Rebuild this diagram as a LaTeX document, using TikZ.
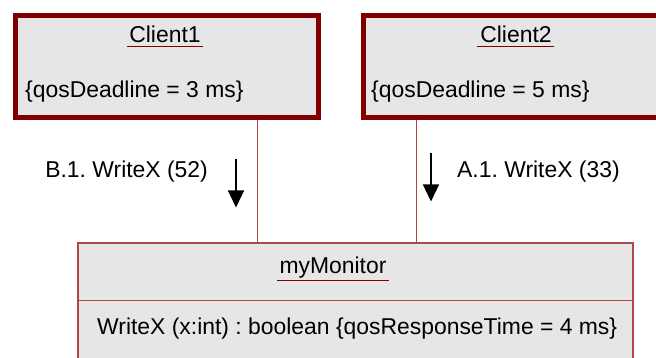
\documentclass[tikz,border=0pt]{standalone}
\usepackage{fontspec}
\setmainfont{Liberation Sans}
\usetikzlibrary{arrows.meta}
\definecolor{darkred}{HTML}{800000}
\definecolor{linered}{HTML}{B04848}
\definecolor{boxgray}{HTML}{E6E6E6}
\tikzset{
  clientbox/.style={draw=darkred, line width=5pt, fill=boxgray, inner sep=0pt, minimum width=302.5pt, minimum height=102pt},
  monbox/.style={draw=linered, line width=1.3pt, fill=boxgray, inner sep=0pt, minimum width=555pt, minimum height=140pt},
  txt/.style={inner sep=0pt, anchor=base, font=\fontsize{22.9}{27}\selectfont\frenchspacing},
  ltxt/.style={txt, anchor=base west},
  rtxt/.style={txt, anchor=base east},
  uline/.style={draw=darkred, line width=1pt},
  mline/.style={draw=linered, line width=1pt},
  conn/.style={draw=linered, line width=1pt},
  msgarrow/.style={draw=black, line width=1.3pt, -{Triangle[length=17pt,width=16pt]}}
}
\begin{document}
\begin{tikzpicture}[x=1pt,y=-1pt]
\clip (0,0) rectangle (656,358);
\fill[white] (0,0) rectangle (656,358);
% monitor
\node[monbox] (mon) at (355.5,313) {};
\draw[mline] (mon.west |- 0,300) -- (mon.east |- 0,300);
% clients
\node[clientbox] (c1) at (166.75,66.5) {};
\node[clientbox] (c2) at (514.75,66.5) {};
% connectors
\coordinate (k1) at (257,0);
\coordinate (k2) at (416,0);
\draw[conn] (c1.south -| k1) -- (mon.north -| k1);
\draw[conn] (c2.south -| k2) -- (mon.north -| k2);
% texts
\node[txt] (t1) at (165,43) {Client1};
\draw[uline] ([xshift=-2pt,yshift=-4pt]t1.base west) -- ([xshift=2pt,yshift=-4pt]t1.base east);
\node[ltxt] (q1) at (25,98) {\{qosDeadline = 3 ms\}};
\node[txt] (t2) at (516,43) {Client2};
\draw[uline] ([xshift=-3pt,yshift=-4pt]t2.base west) -- ([xshift=2pt,yshift=-4pt]t2.base east);
\node[ltxt] (q2) at (371,98) {\{qosDeadline = 5 ms\}};
\node[txt] (tm) at (333,273) {myMonitor};
\draw[uline] ([xshift=-2pt,yshift=-7pt]tm.base west) -- ([xshift=2pt,yshift=-7pt]tm.base east);
\node[ltxt] (op) at (97,334) {WriteX (x:int) : boolean \{qosResponseTime = 4 ms\}};
% messages
\node[rtxt] (lb) at (208,178) {B.1. WriteX (52)};
\node[ltxt] (la) at (457,178) {A.1. WriteX (33)};
\coordinate (b0) at (236,159);
\coordinate (b1) at (236,207.5);
\coordinate (a0) at (431,153);
\coordinate (a1) at (431,201.5);
\draw[msgarrow] (b0) -- (b1);
\draw[msgarrow] (a0) -- (a1);
\end{tikzpicture}
\end{document}
